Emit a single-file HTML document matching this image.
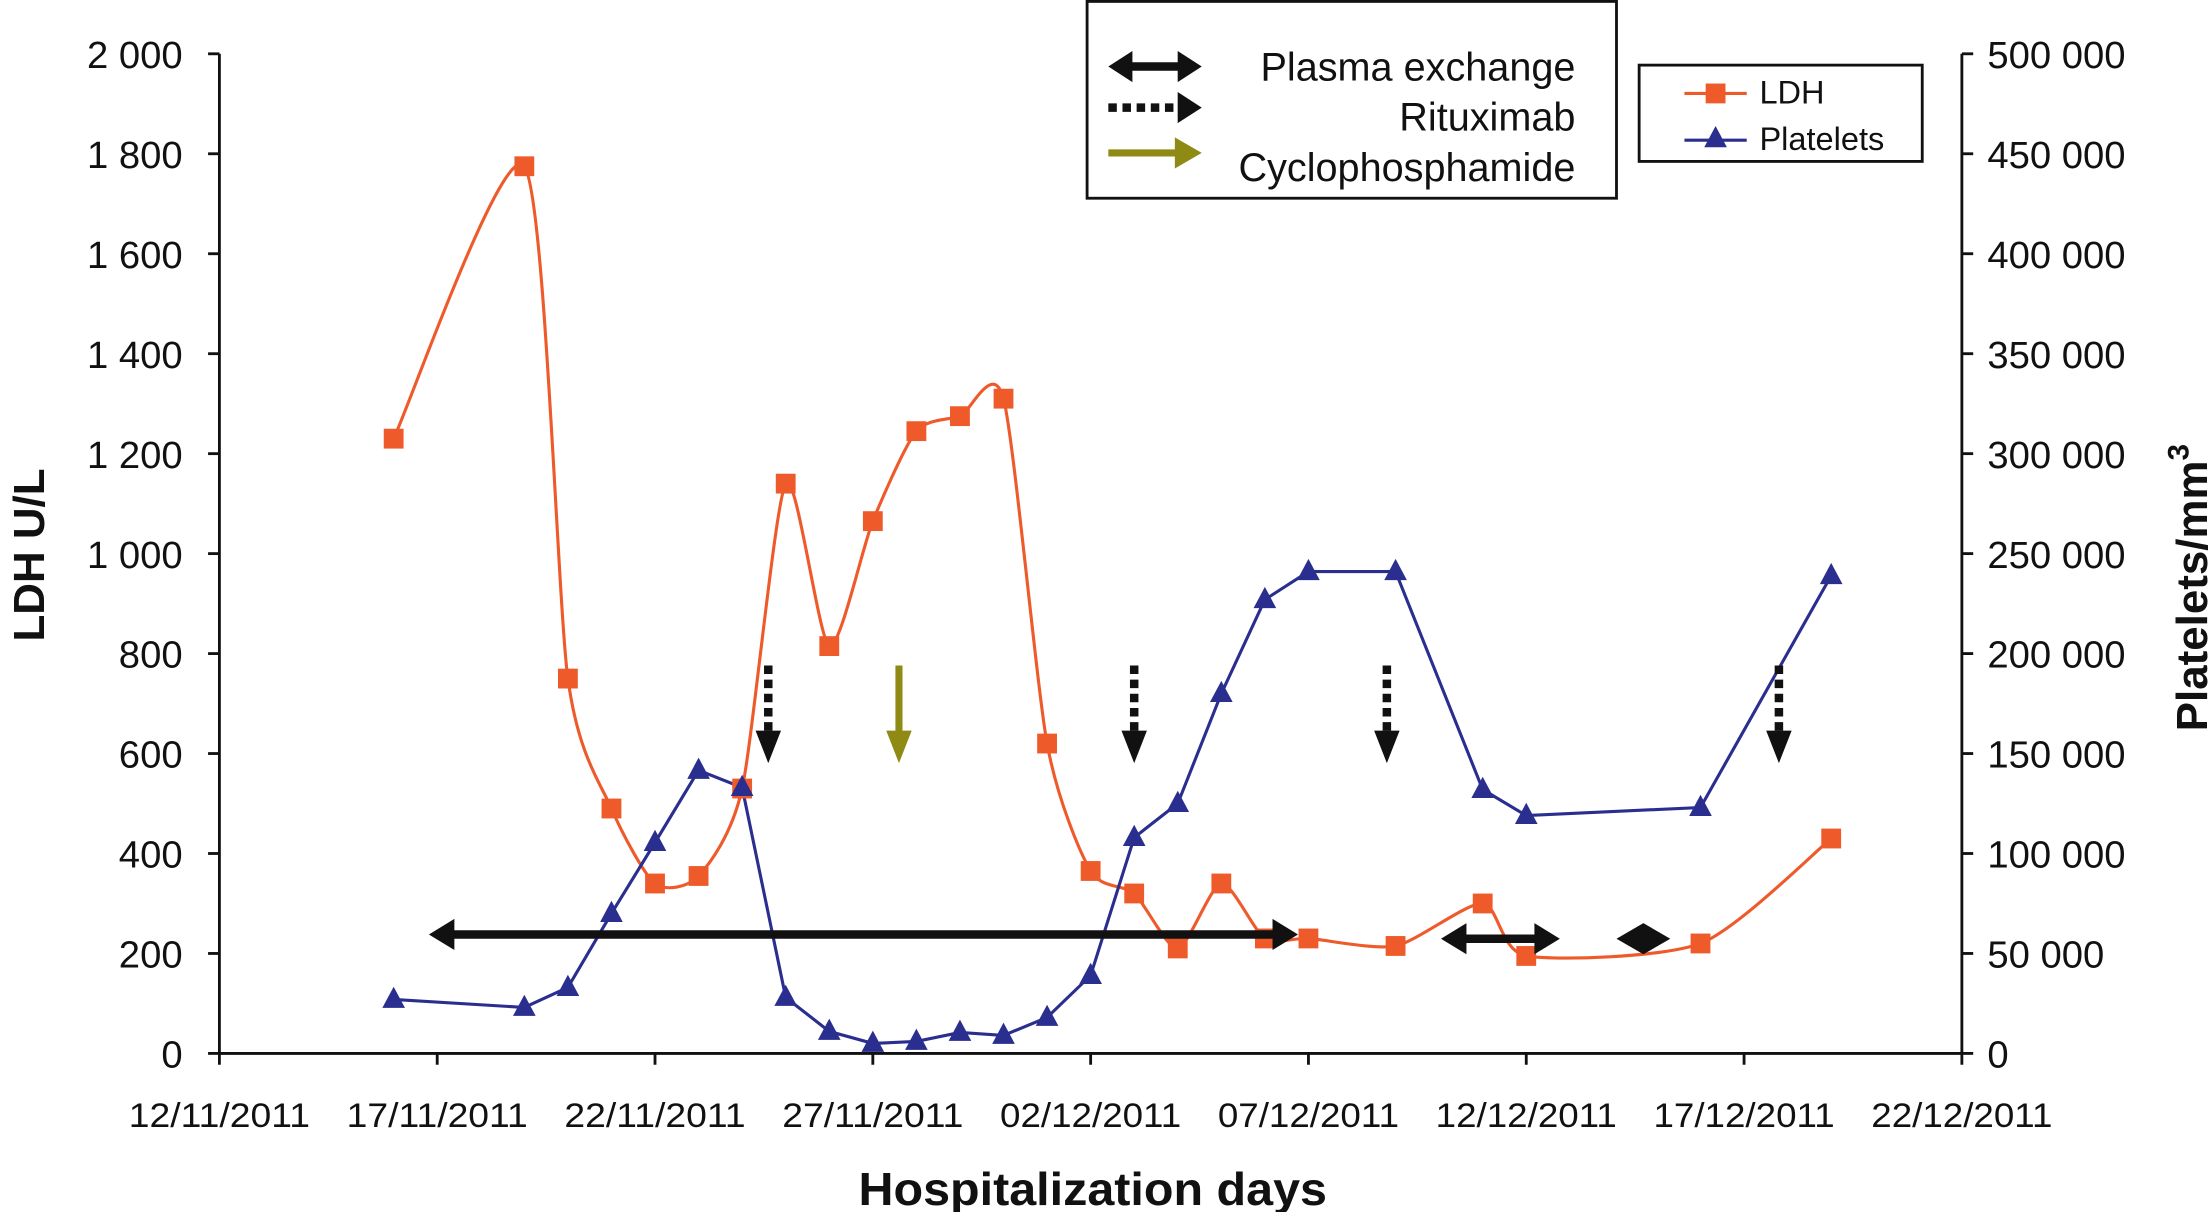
<!DOCTYPE html>
<html><head><meta charset="utf-8"><style>
html,body{margin:0;padding:0;background:#fff}
svg{display:block}
text{font-family:"Liberation Sans",sans-serif;fill:#111}
</style></head><body>
<svg width="2211" height="1212" viewBox="0 0 1562 856" preserveAspectRatio="none" xmlns="http://www.w3.org/2000/svg">
<g id="axes"></g>
<g id="series"></g>
<g id="annot"></g>
</svg>
<script>
const ldhDays=[4,7,8,9,10,11,12,13,14,15,16,17,18,19,20,21,22,23,24,25,27,29,30,34,37];
const ldhValues=[1230,1775,750,490,340,355,530,1140,815,1065,1245,1275,1310,620,365,320,210,340,230,230,215,300,195,220,430];
const pltDays=[4,7,8,9,10,11,12,13,14,15,16,17,18,19,20,21,22,23,24,25,27,29,30,34,37];
const pltValues=[27000,23000,33000,70000,105500,141600,133000,28000,11000,5000,6000,10500,9000,18000,39000,108000,125000,180000,227000,241000,241000,132000,119000,123000,239000];
const xTickLabels=["12/11/2011","17/11/2011","22/11/2011","27/11/2011","02/12/2011","07/12/2011","12/12/2011","17/12/2011","22/12/2011"];
const leftTicks=[0,200,400,600,800,1000,1200,1400,1600,1800,2000];
const rightTicks=[0,50000,100000,150000,200000,250000,300000,350000,400000,450000,500000];
const rituximabDays=[12.6,21.0,26.8,35.8];
const cycloDays=[15.6];

const NS="http://www.w3.org/2000/svg";
const X0=155,X1=1386,Y0=744,Y1=38;
const xs=d=>X0+(X1-X0)*d/40;
const yl=v=>Y0-(Y0-Y1)*v/2000;
const yr=v=>Y0-(Y0-Y1)*v/500000;
function mk(p,tag,a,txt){const e=document.createElementNS(NS,tag);for(const k in a)e.setAttribute(k,a[k]);if(txt!==undefined)e.textContent=txt;p.appendChild(e);return e;}
const fmt=v=>String(v).replace(/\B(?=(\d{3})+(?!\d))/g," ");
const axes=document.getElementById('axes'),ser=document.getElementById('series'),an=document.getElementById('annot');

let e=mk(axes,'line',{x1:X0,y1:Y0,x2:X1,y2:Y0,stroke:'#111','stroke-width':2});


e=mk(axes,'line',{x1:X0,y1:Y0,x2:X0,y2:Y1,stroke:'#111','stroke-width':2});


e=mk(axes,'line',{x1:X1,y1:Y0,x2:X1,y2:Y1,stroke:'#111','stroke-width':2});


xTickLabels.forEach((l,i)=>{const x=xs(i*5);mk(axes,'line',{x1:x,y1:Y0,x2:x,y2:Y0+8,stroke:'#111','stroke-width':2});
 const t=mk(axes,'text',{x:x,y:Y0+52,'text-anchor':'middle','font-size':24,textLength:128,lengthAdjust:'spacingAndGlyphs'},l);
 
 });
leftTicks.forEach(v=>{const y=yl(v);mk(axes,'line',{x1:X0-8,y1:y,x2:X0,y2:y,stroke:'#111','stroke-width':2});
 const t=mk(axes,'text',{x:129,y:y+10,'text-anchor':'end','font-size':27},fmt(v));
 
 });
rightTicks.forEach(v=>{const y=yr(v);mk(axes,'line',{x1:X1,y1:y,x2:X1+8,y2:y,stroke:'#111','stroke-width':2});
 const t=mk(axes,'text',{x:1404,y:y+10,'font-size':27},fmt(v));
 
 });
e=mk(axes,'text',{x:772,y:851,'text-anchor':'middle','font-size':33,'font-weight':'bold',textLength:331,lengthAdjust:'spacingAndGlyphs'},'Hospitalization days');


e=mk(axes,'text',{transform:'translate(31,392) rotate(-90)','text-anchor':'middle','font-size':31,'font-weight':'bold'},'LDH U/L');


e=mk(axes,'text',{transform:'translate(1559,415) rotate(-90)','text-anchor':'middle','font-size':31,'font-weight':'bold'});


e.innerHTML='Platelets/mm<tspan dy="-13" font-size="21">3</tspan>';

function smooth(pts){let d=`M${pts[0][0]},${pts[0][1]}`;for(let i=0;i<pts.length-1;i++){const p0=pts[Math.max(i-1,0)],p1=pts[i],p2=pts[i+1],p3=pts[Math.min(i+2,pts.length-1)];const t=0.12;
 d+=` C${p1[0]+(p2[0]-p0[0])*t},${p1[1]+(p2[1]-p0[1])*t} ${p2[0]-(p3[0]-p1[0])*t},${p2[1]-(p3[1]-p1[1])*t} ${p2[0]},${p2[1]}`;}return d;}
const lp=ldhDays.map((d,i)=>[xs(d),yl(ldhValues[i])]);
e=mk(ser,'path',{d:smooth(lp),fill:'none',stroke:'#ee5a2a','stroke-width':2.2});


const pp=pltDays.map((d,i)=>[xs(d),yr(pltValues[i])]);
e=mk(ser,'polyline',{points:pp.map(p=>p.join(',')).join(' '),fill:'none',stroke:'#2a2e8f','stroke-width':2.2});


lp.forEach(p=>{const r=mk(ser,'rect',{x:p[0]-7,y:p[1]-7,width:14,height:14,fill:'#ee5a2a'});
 
 });
pp.forEach(p=>{const t=mk(ser,'polygon',{points:`${p[0]},${p[1]-9} ${p[0]-8},${p[1]+6} ${p[0]+8},${p[1]+6}`,fill:'#2a2e8f'});
 
 });

function dbl(x1,x2,y,name){const g=mk(an,'g',{});
 mk(g,'line',{x1:x1+14,y1:y,x2:x2-14,y2:y,stroke:'#111','stroke-width':6});
 mk(g,'polygon',{points:`${x1},${y} ${x1+18},${y-11} ${x1+18},${y+11}`,fill:'#111'});
 mk(g,'polygon',{points:`${x2},${y} ${x2-18},${y-11} ${x2-18},${y+11}`,fill:'#111'});}
dbl(303,917,660,'plasma-exchange-arrow-1');
dbl(1018,1102,663,'plasma-exchange-arrow-2');
e=mk(an,'polygon',{points:'1142,663 1161,652 1180,663 1161,674',fill:'#111'});


rituximabDays.forEach(d=>{const x=xs(d);const g=mk(an,'g',{});
 
 
 mk(g,'line',{x1:x,y1:470,x2:x,y2:518,stroke:'#111','stroke-width':6,'stroke-dasharray':'6 4'});
 mk(g,'polygon',{points:`${x-9},516 ${x+9},516 ${x},539`,fill:'#111'});});
cycloDays.forEach(d=>{const x=xs(d);const g=mk(an,'g',{});
 
 
 mk(g,'line',{x1:x,y1:470,x2:x,y2:518,stroke:'#8f8a13','stroke-width':5});
 mk(g,'polygon',{points:`${x-9},516 ${x+9},516 ${x},539`,fill:'#8f8a13'});});

let g=mk(an,'g',{});
mk(g,'rect',{x:768,y:1,width:374,height:139,fill:'#fff',stroke:'#111','stroke-width':2});
mk(g,'line',{x1:797,y1:47,x2:835,y2:47,stroke:'#111','stroke-width':6});
mk(g,'polygon',{points:'783,47 800,36 800,58',fill:'#111'});mk(g,'polygon',{points:'849,47 832,36 832,58',fill:'#111'});
mk(g,'line',{x1:783,y1:76,x2:832,y2:76,stroke:'#111','stroke-width':6,'stroke-dasharray':'6 4'});
mk(g,'polygon',{points:'832,65 849,76 832,87',fill:'#111'});
mk(g,'line',{x1:783,y1:108,x2:832,y2:108,stroke:'#8f8a13','stroke-width':5});
mk(g,'polygon',{points:'830,97 849,108 830,119',fill:'#8f8a13'});
mk(g,'text',{x:1113,y:57,'text-anchor':'end','font-size':28},'Plasma exchange');
mk(g,'text',{x:1113,y:92,'text-anchor':'end','font-size':28},'Rituximab');
mk(g,'text',{x:1113,y:128,'text-anchor':'end','font-size':28},'Cyclophosphamide');
g=mk(an,'g',{});
mk(g,'rect',{x:1158,y:46,width:200,height:68,fill:'#fff',stroke:'#111','stroke-width':2});
mk(g,'line',{x1:1190,y1:66,x2:1234,y2:66,stroke:'#ee5a2a','stroke-width':2.2});
mk(g,'rect',{x:1205,y:59,width:14,height:14,fill:'#ee5a2a'});
mk(g,'line',{x1:1190,y1:99,x2:1234,y2:99,stroke:'#2a2e8f','stroke-width':2.2});
mk(g,'polygon',{points:'1212,89 1204,104 1220,104',fill:'#2a2e8f'});
mk(g,'text',{x:1243,y:73,'font-size':23},'LDH');
mk(g,'text',{x:1243,y:106,'font-size':23},'Platelets');
</script>
</body></html>
